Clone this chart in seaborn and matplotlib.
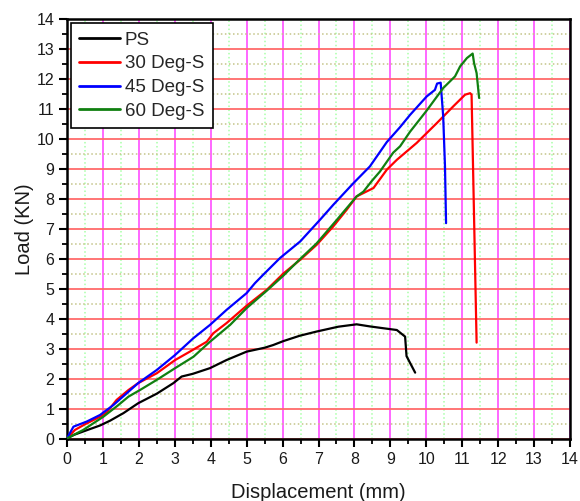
import matplotlib
matplotlib.use("Agg")
import matplotlib.pyplot as plt
from matplotlib.ticker import MultipleLocator
import numpy as np
import pandas as pd
import seaborn as sns

# Load-displacement curves for each specimen
ps_x = [0, 0.2, 0.5, 0.92, 1.2, 1.48, 1.57, 1.98, 2.5, 2.96, 3.19, 3.5, 3.98, 4.44,
        5.0, 5.5, 5.74, 6.02, 6.48, 6.95, 7.55, 8.06, 8.43, 8.8, 9.18, 9.41, 9.45, 9.69]
ps_y = [0.03, 0.15, 0.28, 0.46, 0.62, 0.81, 0.87, 1.2, 1.52, 1.87, 2.09, 2.18, 2.37, 2.64,
        2.92, 3.05, 3.14, 3.27, 3.45, 3.59, 3.75, 3.83, 3.76, 3.7, 3.64, 3.42, 2.77, 2.22]

s30_x = [0, 0.22, 0.5, 0.92, 1.11, 1.38, 1.71, 1.98, 2.5, 3.01, 3.42, 3.89, 4.07, 4.44,
         5.0, 5.56, 6.02, 6.49, 6.95, 7.41, 7.78, 8.06, 8.53, 8.9, 9.18, 9.73, 10.29,
         10.75, 11.08, 11.22, 11.26, 11.4]
s30_y = [0.03, 0.31, 0.5, 0.75, 0.9, 1.31, 1.64, 1.87, 2.2, 2.64, 2.92, 3.25, 3.53, 3.87,
         4.45, 4.98, 5.52, 5.98, 6.48, 7.09, 7.64, 8.09, 8.37, 8.98, 9.31, 9.87, 10.53,
         11.09, 11.48, 11.53, 11.48, 3.22]

s45_x = [0, 0.18, 0.55, 0.92, 1.29, 1.66, 1.98, 2.5, 3.01, 3.52, 3.98, 4.44, 5.0, 5.23,
         5.46, 5.93, 6.49, 7.04, 7.41, 7.97, 8.43, 8.9, 9.27, 9.55, 10.01, 10.24, 10.3,
         10.4, 10.47, 10.52, 10.55]
s45_y = [0.03, 0.42, 0.59, 0.81, 1.14, 1.53, 1.87, 2.31, 2.81, 3.37, 3.81, 4.31, 4.87, 5.2,
         5.48, 6.04, 6.59, 7.31, 7.81, 8.53, 9.09, 9.9, 10.4, 10.81, 11.42, 11.64, 11.85,
         11.88, 10.76, 9.1, 7.2]

s60_x = [0, 0.45, 1.01, 1.43, 1.71, 2.03, 2.5, 3.01, 3.52, 3.98, 4.54, 5.0, 5.56, 6.02,
         6.44, 6.95, 7.51, 8.06, 8.25, 8.48, 8.71, 9.08, 9.27, 9.55, 10.01, 10.47, 10.8,
         10.94, 11.13, 11.29, 11.33, 11.4, 11.47]
s60_y = [0.03, 0.31, 0.75, 1.14, 1.42, 1.64, 1.98, 2.37, 2.75, 3.25, 3.81, 4.37, 4.95, 5.45,
         5.95, 6.53, 7.31, 8.09, 8.25, 8.6, 8.92, 9.55, 9.76, 10.25, 10.95, 11.7, 12.09,
         12.42, 12.7, 12.85, 12.53, 12.2, 11.37]

series_names = ["PS", "30 Deg-S", "45 Deg-S", "60 Deg-S"]
series_colors = ["#000000", "#ff0000", "#0000ff", "#108010"]

frames = []
for name, xs, ys in zip(series_names,
                        [ps_x, s30_x, s45_x, s60_x],
                        [ps_y, s30_y, s45_y, s60_y]):
    frames.append(pd.DataFrame({"Displacement": xs, "Load": ys, "Specimen": name,
                                "order": np.arange(len(xs))}))
df = pd.concat(frames, ignore_index=True)

sns.set_theme(style="white")
plt.rcParams["font.family"] = ["Liberation Sans", "DejaVu Sans"]

fig = plt.figure(figsize=(5.8, 5.01), dpi=100)
ax = fig.add_axes([0.1155, 0.1232, 0.8673, 0.8388])

sns.lineplot(data=df, x="Displacement", y="Load", hue="Specimen",
             hue_order=series_names, palette=dict(zip(series_names, series_colors)),
             estimator=None, sort=False, units=None, linewidth=1.6, ax=ax, zorder=5)

ax.set_xlim(0, 14)
ax.set_ylim(0, 14)
ax.xaxis.set_major_locator(MultipleLocator(1))
ax.yaxis.set_major_locator(MultipleLocator(1))
ax.xaxis.set_minor_locator(MultipleLocator(0.5))
ax.yaxis.set_minor_locator(MultipleLocator(0.5))

# Coloured grid: solid majors, dotted minors
ax.set_axisbelow(True)
ax.grid(which="minor", axis="x", color="#a8ffa8", linestyle=":", linewidth=1.1)
ax.grid(which="minor", axis="y", color="#c4c488", linestyle=":", linewidth=1.1)
ax.grid(which="major", axis="x", color="#ff5cff", linestyle="-", linewidth=1.3)
ax.grid(which="major", axis="y", color="#ff6a6a", linestyle="-", linewidth=1.3)

for side in ["left", "bottom", "top", "right"]:
    ax.spines[side].set_visible(True)
    ax.spines[side].set_color("black")
    ax.spines[side].set_linewidth(1.8)

ax.tick_params(which="major", direction="out", length=6, width=1.5, color="black",
               labelsize=11.5, pad=3, bottom=True, left=True, top=False, right=False,
               labelcolor="#1a1a1a")
ax.tick_params(which="minor", direction="out", length=3.5, width=1.3, color="black",
               bottom=True, left=True, top=False, right=False)

ax.set_xlabel("Displacement (mm)", fontsize=14.5, labelpad=12, color="#1a1a1a")
ax.set_ylabel("Load (KN)", fontsize=14.5, labelpad=2, color="#1a1a1a")

leg = ax.legend(loc="upper left", bbox_to_anchor=(0.007, 0.99), fontsize=13.5,
                frameon=True, fancybox=False, framealpha=1, edgecolor="black",
                handlelength=2.2, handletextpad=0.25, labelspacing=0.35,
                borderpad=0.45, borderaxespad=0)
leg.get_frame().set_linewidth(1.2)
for line in leg.get_lines():
    line.set_linewidth(2.0)

fig.savefig("out.png", dpi=100)
